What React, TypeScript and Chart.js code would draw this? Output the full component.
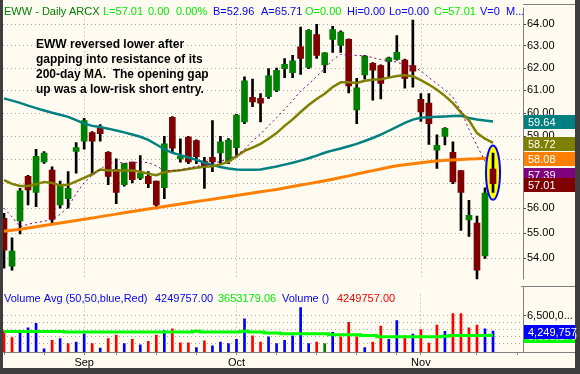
import React, { useEffect, useRef } from "react";
import { Chart, registerables } from "chart.js";

Chart.register(...registerables);

// ---------------- data ----------------
const opens = [55.59, 53.69, 55.49, 57.31, 56.65, 57.91, 57.57, 56.13, 56.39, 58.36,
  58.79, 59.16, 59.37, 58.32, 57.6, 56.97, 57.91, 57.24, 57.31, 57.11,
  56.84, 59.82, 58.04, 58.97, 58.82, 57.95, 58.11, 58.29, 57.95, 58.52,
  59.62, 60.69, 60.65, 60.72, 61.0, 61.97, 61.79, 62.96, 62.03, 63.52,
  62.14, 63.3, 63.03, 63.3, 60.14, 61.69, 62.21, 62.11, 62.29, 62.39,
  62.36, 62.11, 60.61, 60.44, 58.41, 59.0, 58.32, 57.55, 55.53, 55.4,
  54.09, 57.61];
const highs = [55.79, 54.81, 56.81, 57.35, 58.45, 58.35, 57.71, 57.11, 57.51, 58.73,
  59.78, 59.2, 59.51, 58.35, 58.04, 57.86, 57.91, 58.18, 57.51, 57.11,
  59.0, 59.85, 58.89, 59.0, 58.85, 58.11, 59.68, 59.0, 58.9, 59.95,
  61.6, 61.5, 60.86, 61.97, 62.0, 62.43, 62.57, 63.87, 63.75, 64.0,
  62.7, 63.9, 63.7, 63.33, 61.54, 62.57, 62.25, 62.14, 62.5, 63.48,
  62.4, 64.2, 60.86, 60.86, 59.07, 59.38, 58.77, 57.55, 56.32, 55.68,
  56.84, 58.29];
const lows = [53.62, 53.54, 54.97, 56.13, 56.06, 57.85, 55.42, 56.0, 56.0, 57.44,
  58.45, 57.37, 58.79, 56.97, 56.19, 56.9, 57.04, 57.17, 56.84, 55.97,
  56.39, 58.3, 57.9, 57.84, 57.84, 56.81, 57.51, 57.84, 57.84, 58.11,
  59.55, 60.28, 59.62, 60.65, 60.95, 61.57, 61.57, 61.71, 61.97, 62.43,
  61.79, 62.71, 62.71, 60.89, 59.55, 61.5, 60.57, 60.62, 61.57, 62.35,
  61.1, 61.14, 59.64, 58.66, 57.64, 58.63, 57.01, 55.1, 54.87, 53.19,
  54.0, 56.65];
const closes = [54.32, 54.28, 56.71, 56.75, 58.15, 58.29, 55.55, 56.97, 56.81, 58.52,
  59.68, 58.79, 59.11, 57.31, 56.65, 57.84, 57.17, 57.44, 57.01, 56.13,
  58.68, 58.5, 58.15, 57.91, 58.14, 57.73, 57.91, 58.77, 58.84, 59.92,
  61.43, 60.49, 60.44, 61.65, 61.9, 62.17, 62.33, 62.43, 63.72, 62.57,
  62.69, 63.75, 63.64, 61.2, 61.12, 62.54, 61.9, 61.31, 62.46, 62.71,
  61.53, 61.86, 60.06, 59.55, 58.62, 59.34, 57.08, 56.65, 55.71, 53.54,
  56.62, 57.01];
// purple dotted moving average
const ma10 = [56.0, 55.65, 55.25, 55.35, 55.42, 55.47, 55.55, 55.75, 56.05, 56.6,
  57.05, 57.35, 57.6, 57.85, 57.9, 57.87, 57.85, 57.92, 57.88, 57.75,
  57.55, 57.55, 57.57, 57.65, 57.73, 57.78, 57.84, 57.94, 58.04, 58.2,
  58.45, 58.8, 59.1, 59.45, 59.8, 60.17, 60.55, 60.97, 61.28, 61.62,
  61.97, 62.37, 62.62, 62.58, 62.57, 62.55, 62.47, 62.38, 62.33, 62.27,
  62.14, 62.05, 61.88, 61.57, 61.3, 61.02, 60.7, 60.1, 59.3, 58.6,
  57.95, 57.39];
// olive moving average
const ma20 = [57.15, 57.0, 56.91, 56.91, 56.98, 57.08, 57.04, 56.93, 56.96, 57.1,
  57.25, 57.4, 57.6, 57.56, 57.55, 57.55, 57.55, 57.5, 57.42, 57.36,
  57.48, 57.53, 57.57, 57.62, 57.67, 57.71, 57.73, 57.81, 57.92, 58.15,
  58.38, 58.52, 58.68, 58.9, 59.14, 59.45, 59.73, 60.05, 60.36, 60.62,
  60.85, 61.15, 61.36, 61.36, 61.33, 61.43, 61.47, 61.5, 61.57, 61.64,
  61.67, 61.63, 61.46, 61.26, 61.03, 60.76, 60.44, 60.03, 59.69, 59.14,
  58.9, 58.72];
// teal moving average
const ma50 = [60.65, 60.55, 60.45, 60.33, 60.22, 60.12, 60.02, 59.93, 59.84, 59.7,
  59.55, 59.45, 59.4, 59.33, 59.25, 59.17, 59.08, 58.98, 58.85, 58.65,
  58.45, 58.3, 58.2, 58.1, 58.0, 57.88, 57.78, 57.7, 57.64, 57.6,
  57.59, 57.59, 57.6, 57.66, 57.72, 57.8, 57.88, 57.97, 58.07, 58.18,
  58.3, 58.4, 58.48, 58.58, 58.68, 58.8, 58.93, 59.07, 59.24, 59.41,
  59.58, 59.72, 59.8, 59.82, 59.84, 59.86, 59.88, 59.89, 59.79, 59.73,
  59.68, 59.64];
// orange 200-day moving average
const ma200 = [55.07, 55.11, 55.15, 55.2, 55.25, 55.3, 55.35, 55.4, 55.45, 55.5,
  55.55, 55.6, 55.66, 55.71, 55.76, 55.82, 55.87, 55.92, 55.97, 56.02,
  56.07, 56.12, 56.17, 56.22, 56.27, 56.32, 56.37, 56.42, 56.47, 56.52,
  56.57, 56.62, 56.67, 56.72, 56.77, 56.83, 56.89, 56.95, 57.01, 57.07,
  57.13, 57.19, 57.26, 57.33, 57.41, 57.48, 57.55, 57.62, 57.69, 57.75,
  57.8, 57.84, 57.88, 57.92, 57.95, 57.98, 58.0, 58.02, 58.04, 58.05,
  58.07, 58.08];
// volume in millions of shares
const volumeM = [4.31, 3.30, 4.22, 4.75, 5.40, 1.68, 2.90, 3.17, 2.42, 2.64,
  3.87, 2.42, 1.76, 3.17, 3.69, 2.42, 3.04, 2.25, 2.77, 3.69,
  4.35, 4.61, 2.55, 2.55, 1.85, 2.82, 2.11, 2.64, 2.42, 3.04,
  6.06, 3.56, 2.64, 3.43, 2.42, 2.90, 3.56, 7.73, 2.42, 2.64,
  2.42, 4.09, 3.43, 5.54, 3.43, 1.85, 2.64, 5.01, 3.04, 5.80,
  3.56, 3.82, 4.48, 2.51, 5.14, 4.22, 6.85, 6.85, 4.75, 5.14,
  4.61, 4.249757];
const volumeAvgM = [4.2, 4.2, 4.2, 4.2, 4.2, 4.2, 4.2, 4.2, 4.13, 4.13,
  4.13, 4.13, 4.13, 4.13, 4.13, 4.13, 4.13, 4.13, 4.13, 4.13,
  4.13, 4.13, 4.13, 4.13, 4.26, 4.13, 4.13, 4.13, 4.13, 4.13,
  4.26, 4.13, 4.13, 4.0, 4.0, 3.87, 3.87, 3.87, 3.87, 3.87,
  3.87, 3.74, 3.74, 3.74, 3.74, 3.61, 3.61, 3.45, 3.45, 3.45,
  3.45, 3.45, 3.45, 3.45, 3.45, 3.5, 3.62, 3.62, 3.62, 3.62,
  3.62, 3.65317906];
// 1 = close up, -1 = close down, 0 = unchanged
const volumeDir = [-1, -1, 1, 1, 1, 1, -1, 1, -1, 1,
  1, -1, 1, -1, -1, 1, -1, 1, -1, -1,
  1, -1, -1, -1, 1, -1, 1, 1, 1, 1,
  1, -1, -1, 1, 1, 1, 1, 1, 1, -1,
  0, 1, -1, -1, -1, 1, -1, -1, 1, 1,
  -1, 1, -1, -1, -1, 1, -1, -1, -1, -1,
  1, 1];
const priceTicks = [54, 55, 56, 57, 58, 59, 60, 61, 62, 63, 64];
const volumeGridM = [2.5, 3.5, 4.5, 5.5, 6.5];
const volumeLabelM = 6.5;
const monthIdx = [10, 29, 52];
const monthNames = ["Sep", "Oct", "Nov"];
const weekIdx = [0, 5, 10, 14, 19, 24, 29, 34, 39, 44, 49, 52, 59, 64];
const lastVolume = 4249757;
const lastVolumeAvg = 3653179.06;
const noteLines = [
  "EWW reversed lower after",
  "gapping into resistance of its",
  "200-day MA.  The opening gap",
  "up was a low-risk short entry.",
];

// ---------------- styling ----------------
const FONT = "'Liberation Sans', Arial, Helvetica, sans-serif";
const BG = "#FFFBF0";
const FRAME = "#3E3E3E";
const AXIS = "#808080";
const GRID = "#A8A8A8";
const UP = "#008000";
const DOWN = "#800000";
const LIME = "#00EE00";
const BLUE = "#0000FF";
const TEAL = "#008080";
const OLIVE = "#808000";
const ORANGE = "#FF8000";
const PURPLE = "#800080";

const N = closes.length;
const LAST = N - 1;
const X_MIN = -0.125;
const X_MAX = 64.74;

const headerItems: [string, string, number][] = [
  ["EWW - Daily", UP, 4],
  ["ARCX", UP, 69],
  ["L=" + closes[LAST].toFixed(2), LIME, 103],
  ["0.00", LIME, 148],
  ["0.00%", LIME, 176],
  ["B=52.96", BLUE, 213],
  ["A=65.71", BLUE, 261],
  ["O=0.00", LIME, 305],
  ["Hi=0.00", BLUE, 347],
  ["Lo=0.00", BLUE, 389],
  ["C=" + closes[LAST].toFixed(2), LIME, 434],
  ["V=0", BLUE, 480],
  ["M...", BLUE, 506],
];

const volLegend: [string, string, number][] = [
  ["Volume Avg (50,50,blue,Red)", BLUE, 4],
  [lastVolume.toFixed(2), BLUE, 155],
  [lastVolumeAvg.toFixed(2), LIME, 218],
  ["Volume ()", BLUE, 282],
  [lastVolume.toFixed(2), "#FF0000", 337],
];

const idx = closes.map((_, i) => i);
const pts = (arr: number[]) => arr.map((y, x) => ({ x, y }));
const candleColor = (i: number) => (closes[i] >= opens[i] ? UP : DOWN);

function labelBox(ctx: CanvasRenderingContext2D, y: number, color: string, text: string) {
  const yy = Math.round(y);
  ctx.fillStyle = color;
  ctx.fillRect(524, yy - 6, 51, 14);
  ctx.fillStyle = "#FFFFFF";
  ctx.font = `11px ${FONT}`;
  ctx.textAlign = "left";
  ctx.textBaseline = "middle";
  ctx.fillText(text, 528, yy + 1.5);
}

function hLine(ctx: CanvasRenderingContext2D, x1: number, x2: number, y: number, color: string) {
  ctx.strokeStyle = color;
  ctx.lineWidth = 1;
  ctx.setLineDash([]);
  ctx.beginPath();
  ctx.moveTo(x1, y);
  ctx.lineTo(x2, y);
  ctx.stroke();
}
function vLine(ctx: CanvasRenderingContext2D, x: number, y1: number, y2: number, color: string) {
  ctx.strokeStyle = color;
  ctx.lineWidth = 1;
  ctx.setLineDash([]);
  ctx.beginPath();
  ctx.moveTo(x, y1);
  ctx.lineTo(x, y2);
  ctx.stroke();
}

const pricePanelPlugin = {
  id: "pricePanel",
  beforeDraw(chart: any) {
    const { ctx, width, height } = chart;
    ctx.save();
    ctx.fillStyle = FRAME;
    ctx.fillRect(0, 0, width, height);
    ctx.fillStyle = BG;
    ctx.fillRect(3, 0, 572, height);
    ctx.restore();
  },
  beforeDatasetsDraw(chart: any) {
    const { ctx, chartArea, scales } = chart;
    ctx.save();
    ctx.strokeStyle = GRID;
    ctx.lineWidth = 1;
    ctx.setLineDash([1, 3]);
    monthIdx.forEach((m) => {
      const px = Math.round(scales.x.getPixelForValue(m)) + 0.5;
      ctx.beginPath();
      ctx.moveTo(px, chartArea.top);
      ctx.lineTo(px, chartArea.bottom);
      ctx.stroke();
    });
    ctx.restore();
  },
  beforeDatasetDraw(chart: any, args: any) {
    const ds = chart.data.datasets[args.index];
    if (ds.label !== "lastWick") return;
    const { ctx, scales } = chart;
    const cx = scales.x.getPixelForValue(LAST);
    const yHi = scales.y.getPixelForValue(highs[LAST]);
    const yLo = scales.y.getPixelForValue(lows[LAST]);
    ctx.save();
    ctx.beginPath();
    ctx.ellipse(cx, (yHi + yLo) / 2, 7, (yLo - yHi) / 2 + 7.5, 0, 0, Math.PI * 2);
    ctx.fillStyle = "#FFFF00";
    ctx.fill();
    ctx.strokeStyle = BLUE;
    ctx.lineWidth = 2;
    ctx.stroke();
    ctx.restore();
  },
  afterDraw(chart: any) {
    const { ctx, chartArea, scales } = chart;
    ctx.save();
    // axis frame
    vLine(ctx, 523.5, chartArea.top, chartArea.bottom, AXIS);
    hLine(ctx, 523, 575, 4.5, AXIS);
    hLine(ctx, 521, 575, 286.5, AXIS);
    // header
    ctx.font = `11px ${FONT}`;
    ctx.textAlign = "left";
    ctx.textBaseline = "alphabetic";
    headerItems.forEach(([t, c, x]) => {
      ctx.fillStyle = c;
      ctx.fillText(t, x, 15);
    });
    // note
    ctx.font = `bold 12px ${FONT}`;
    ctx.fillStyle = "#000000";
    noteLines.forEach((t, k) => ctx.fillText(t, 36, 48 + k * 15));
    // last-value boxes
    const y = scales.y;
    labelBox(ctx, y.getPixelForValue(ma50[LAST]), TEAL, ma50[LAST].toFixed(2));
    labelBox(ctx, y.getPixelForValue(ma20[LAST]), OLIVE, ma20[LAST].toFixed(2));
    labelBox(ctx, y.getPixelForValue(ma200[LAST]), ORANGE, ma200[LAST].toFixed(2));
    labelBox(ctx, y.getPixelForValue(ma10[LAST]), PURPLE, ma10[LAST].toFixed(2));
    labelBox(ctx, y.getPixelForValue(closes[LAST]), DOWN, closes[LAST].toFixed(2));
    ctx.restore();
  },
};

const volumePanelPlugin = {
  id: "volumePanel",
  beforeDraw(chart: any) {
    const { ctx, width, height } = chart;
    ctx.save();
    ctx.fillStyle = FRAME;
    ctx.fillRect(0, 0, width, height);
    ctx.fillStyle = BG;
    ctx.fillRect(3, 0, 572, height - 6);
    ctx.restore();
  },
  afterDraw(chart: any) {
    const { ctx, chartArea, scales } = chart;
    ctx.save();
    vLine(ctx, 523.5, 0, chartArea.bottom, AXIS);
    hLine(ctx, 3, 575, Math.round(chartArea.bottom) + 0.5, AXIS);
    ctx.font = `11px ${FONT}`;
    ctx.textAlign = "left";
    ctx.textBaseline = "alphabetic";
    volLegend.forEach(([t, c, x]) => {
      ctx.fillStyle = c;
      ctx.fillText(t, x, 15);
    });
    const y = scales.y;
    labelBox(ctx, y.getPixelForValue(volumeAvgM[LAST] * 1e6), "#00FF00",
      Math.round(lastVolumeAvg).toLocaleString("en-US"));
    labelBox(ctx, y.getPixelForValue(volumeM[LAST] * 1e6), BLUE, lastVolume.toLocaleString("en-US"));
    ctx.restore();
  },
};

function priceConfig(): any {
  const body = idx.slice(0, LAST);
  return {
    type: "bar",
    data: {
      datasets: [
        {
          type: "bar", label: "wick", order: 10, grouped: false, barThickness: 2,
          data: body.map((i) => ({ x: i, y: [lows[i], highs[i]] })),
          backgroundColor: "#000000", borderWidth: 0,
        },
        {
          type: "bar", label: "body", order: 9, grouped: false, barThickness: 6, minBarLength: 1,
          data: body.map((i) => ({ x: i, y: [opens[i], closes[i]] })),
          backgroundColor: body.map(candleColor), borderWidth: 0,
        },
        { type: "line", label: "ma200", order: 8, data: pts(ma200), borderColor: ORANGE, borderWidth: 3, pointRadius: 0 },
        { type: "line", label: "ma50", order: 7, data: pts(ma50), borderColor: TEAL, borderWidth: 2.5, pointRadius: 0 },
        { type: "line", label: "ma20", order: 6, data: pts(ma20), borderColor: OLIVE, borderWidth: 2.5, pointRadius: 0 },
        { type: "line", label: "ma10", order: 5, data: pts(ma10), borderColor: PURPLE, borderWidth: 1, borderDash: [2, 3], pointRadius: 0 },
        {
          type: "bar", label: "lastWick", order: 2, grouped: false, barThickness: 2,
          data: [{ x: LAST, y: [lows[LAST], highs[LAST]] }],
          backgroundColor: "#000000", borderWidth: 0,
        },
        {
          type: "bar", label: "lastBody", order: 1, grouped: false, barThickness: 6, minBarLength: 1,
          data: [{ x: LAST, y: [opens[LAST], closes[LAST]] }],
          backgroundColor: candleColor(LAST), borderWidth: 0,
        },
      ],
    },
    options: {
      animation: false,
      responsive: false,
      maintainAspectRatio: false,
      events: [],
      layout: { padding: { left: 3, top: 4, right: 0, bottom: 0 } },
      plugins: { legend: { display: false }, tooltip: { enabled: false } },
      scales: {
        x: { type: "linear", min: X_MIN, max: X_MAX, offset: false, display: false, grid: { offset: false } },
        y: {
          type: "logarithmic",
          position: "right",
          min: 53.18,
          max: 64.78,
          bounds: "data",
          afterBuildTicks: (s: any) => { s.ticks = priceTicks.map((v) => ({ value: v })); },
          afterFit: (s: any) => { s.width = 57; },
          ticks: {
            autoSkip: false,
            color: "#000000",
            font: { family: FONT, size: 11 },
            padding: 1,
            callback: (v: any) => Number(v).toFixed(2),
          },
          grid: { color: GRID, lineWidth: 1, drawTicks: true, tickLength: 3, tickColor: "#404040", tickWidth: 1 },
          border: { display: false, dash: [1, 3] },
        },
      },
    },
    plugins: [pricePanelPlugin],
  };
}

function volumeConfig(): any {
  return {
    type: "bar",
    data: {
      datasets: [
        {
          type: "line", label: "volAvg", order: 0, data: volumeAvgM.map((v, i) => ({ x: i, y: v * 1e6 })),
          borderColor: "#00FF00", borderWidth: 3, pointRadius: 0, stepped: "middle",
        },
        {
          type: "bar", label: "volume", order: 1, grouped: false, barThickness: 2,
          data: volumeM.map((v, i) => ({ x: i, y: v * 1e6 })),
          backgroundColor: volumeDir.map((d) => (d > 0 ? BLUE : d < 0 ? "#FF0000" : UP)),
          borderWidth: 0,
        },
      ],
    },
    options: {
      animation: false,
      responsive: false,
      maintainAspectRatio: false,
      events: [],
      layout: { padding: { left: 3, top: 1, right: 0, bottom: 6 } },
      plugins: { legend: { display: false }, tooltip: { enabled: false } },
      scales: {
        x: {
          type: "linear", min: X_MIN, max: X_MAX, offset: false, bounds: "data",
          afterBuildTicks: (s: any) => { s.ticks = weekIdx.map((v) => ({ value: v })); },
          afterFit: (s: any) => { s.height = 16; },
          ticks: {
            autoSkip: false, maxRotation: 0, minRotation: 0, padding: 1.5,
            color: "#000000", font: { family: FONT, size: 11 },
            callback: (v: any) => { const k = monthIdx.indexOf(Number(v)); return k >= 0 ? monthNames[k] : ""; },
          },
          grid: {
            offset: false,
            color: (c: any) => (c.tick && monthIdx.includes(c.tick.value) ? GRID : "rgba(0,0,0,0)"),
            tickColor: AXIS, tickLength: 3, drawTicks: true,
          },
          border: { display: false, dash: [1, 3] },
        },
        y: {
          type: "linear", position: "right", min: 1.197e6, max: 9.62e6, bounds: "data",
          afterBuildTicks: (s: any) => { s.ticks = volumeGridM.map((v) => ({ value: v * 1e6 })); },
          afterFit: (s: any) => { s.width = 57; },
          ticks: {
            autoSkip: false, color: "#000000", font: { family: FONT, size: 11 }, padding: 1,
            callback: (v: any) => (Number(v) === volumeLabelM * 1e6 ? "6,500,0..." : ""),
          },
          grid: {
            color: GRID, tickLength: 3, drawTicks: true,
            tickColor: (c: any) => (c.tick && c.tick.value === volumeLabelM * 1e6 ? "#404040" : "rgba(0,0,0,0)"),
          },
          border: { display: false, dash: [1, 3] },
        },
      },
    },
    plugins: [volumePanelPlugin],
  };
}

export default function App() {
  const priceRef = useRef<HTMLCanvasElement>(null);
  const volRef = useRef<HTMLCanvasElement>(null);
  useEffect(() => {
    const c1 = new Chart(priceRef.current as HTMLCanvasElement, priceConfig());
    const c2 = new Chart(volRef.current as HTMLCanvasElement, volumeConfig());
    return () => {
      c1.destroy();
      c2.destroy();
    };
  }, []);
  return (
    <div style={{ position: "fixed", left: 0, top: 0, width: 580, height: 374, background: FRAME }}>
      <canvas ref={priceRef} width={580} height={287}
        style={{ position: "absolute", left: 0, top: 0, width: 580, height: 287 }} />
      <canvas ref={volRef} width={580} height={87}
        style={{ position: "absolute", left: 0, top: 287, width: 580, height: 87 }} />
    </div>
  );
}
